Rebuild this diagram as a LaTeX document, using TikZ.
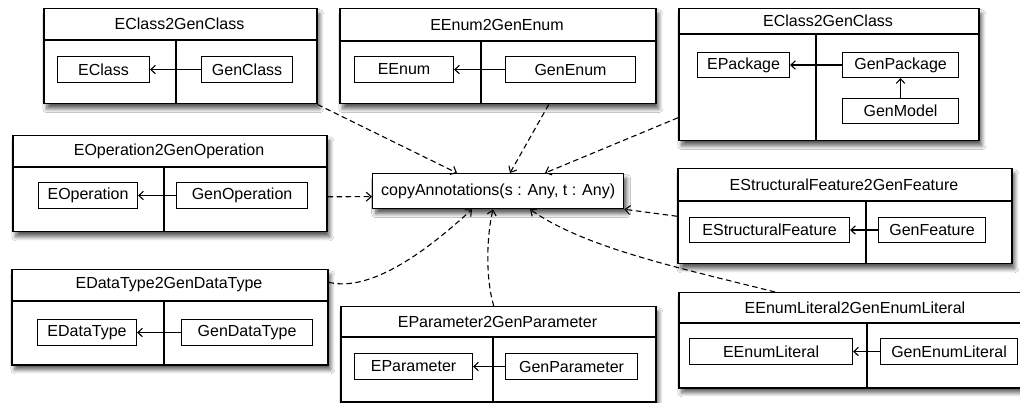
\documentclass[tikz,border=0pt]{standalone}
\usepackage{fontspec}
\setmainfont{Liberation Sans}
\usetikzlibrary{arrows.meta,shadows.blur,calc}
\tikzset{
  lbl/.style={font=\fontsize{16}{18}\selectfont},
  mapouter/.style={draw, line width=1.5pt, fill=white, inner sep=0pt,
    blur shadow={shadow xshift=3pt, shadow yshift=-5pt, shadow blur radius=4pt, shadow blur steps=8, shadow opacity=65}},
  mapline/.style={line width=1.3pt},
  titletext/.style={lbl, inner sep=0pt},
  cell/.style={draw, line width=1.1pt, fill=white, lbl, inner sep=2pt},
  inarrow/.style={line width=1.1pt, -{Straight Barb[length=4.5pt,width=8.5pt]}},
  conn/.style={line width=1.1pt, dash pattern=on 5.5pt off 3.5pt, -{Straight Barb[length=5pt,width=9pt]}},
}
\newcommand\mybox[8]{%
  \node[mapouter, anchor=north west, minimum width={(#4-#2)*1pt}, minimum height={(#5-#3)*1pt}] (#1) at (#2,#3) {};
  \draw[mapline] (#2,#6) -- (#4,#6);
  \draw[mapline] (#7,#6) -- (#7,#5);
  \node[titletext] (#1-title) at ({(#2+#4)/2},{(#3+#6)/2}) {#8};
}
\newcommand\mycell[6]{%
  \node[cell, anchor=north west, minimum width={(#4-#2)*1pt}, minimum height={(#5-#3)*1pt}] (#1) at (#2,#3) {#6};
}
\begin{document}
\begin{tikzpicture}[x=1pt,y=-1pt]
\useasboundingbox[fill=white] (0,0) rectangle (1020,403);

% EClass2GenClass (left)
\mybox{b1}{43}{8}{316}{103}{40}{176}{EClass2GenClass}
\mycell{eclass}{57}{56}{149}{82}{EClass}
\mycell{genclass}{201}{56}{292}{82}{GenClass}
\draw[inarrow] (genclass) -- (eclass);

% EEnum2GenEnum
\mybox{b2}{339}{8}{655}{103}{41}{481}{EEnum2GenEnum}
\mycell{eenum}{354}{56}{453}{82}{EEnum}
\mycell{genenum}{505}{56}{635}{82}{GenEnum}
\draw[inarrow] (genenum) -- (eenum);

% EClass2GenClass (right)
\mybox{b3}{678}{8}{978}{140}{34}{816}{EClass2GenClass}
\mycell{epackage}{697}{52}{789}{77}{EPackage}
\mycell{genpackage}{842}{52}{958}{77}{GenPackage}
\mycell{genmodel}{842}{98}{958}{123}{GenModel}
\draw[inarrow] (genpackage) -- (epackage);
\draw[inarrow] (genmodel) -- (genpackage);

% EOperation2GenOperation
\mybox{b4}{12}{135}{326}{231}{167}{164}{EOperation2GenOperation}
\mycell{eoperation}{38}{182}{137}{208}{EOperation}
\mycell{genoperation}{176}{182}{307}{208}{GenOperation}
\draw[inarrow] (genoperation) -- (eoperation);

% EStructuralFeature2GenFeature
\mybox{b5}{677}{168}{1011}{263}{201}{866}{EStructuralFeature2GenFeature}
\mycell{esf}{689}{217}{849}{242}{EStructuralFeature}
\mycell{genfeature}{878}{217}{985}{242}{GenFeature}
\draw[inarrow] (genfeature) -- (esf);

% EDataType2GenDataType
\mybox{b6}{11}{269}{327}{364}{301}{164}{EDataType2GenDataType}
\mycell{edatatype}{37}{319}{136}{345}{EDataType}
\mycell{gendatatype}{181}{319}{312}{345}{GenDataType}
\draw[inarrow] (gendatatype) -- (edatatype);

% EParameter2GenParameter
\mybox{b7}{340}{306}{655}{401}{337}{493}{EParameter2GenParameter}
\mycell{eparameter}{354}{353}{472}{379}{EParameter}
\mycell{genparameter}{505}{353}{637}{379}{GenParameter}
\draw[inarrow] (genparameter) -- (eparameter);

% EEnumLiteral2GenEnumLiteral
\mybox{b8}{678}{292}{1032}{387}{323}{867}{EEnumLiteral2GenEnumLiteral}
\mycell{eenumliteral}{689}{338}{852}{364}{EEnumLiteral}
\mycell{genenumliteral}{880}{338}{1017}{364}{GenEnumLiteral}
\draw[inarrow] (genenumliteral) -- (eenumliteral);

% central operation
\node[mapouter, lbl, anchor=north west, minimum width=251pt, minimum height=35pt, line width=1.3pt] (copy) at (372,173) {copyAnnotations(s : Any, t : Any)};

% connectors
\draw[conn] (b1.south east) -- ([xshift=85pt]copy.north west);
\draw[conn] ([xshift=51pt]b2.south) -- ([xshift=138pt]copy.north west);
\draw[conn] ([yshift=-43pt]b3.west) -- ([xshift=173pt]copy.north west);
\draw[conn] ([yshift=-13pt]b4.east) -- ([yshift=-5.5pt]copy.west);
\draw[conn] (b5.west) -- (copy.south east);
\draw[conn] ([yshift=35pt]b6.east) .. controls (372,293) and (430,248) .. ([xshift=100pt]copy.south west);
\draw[conn] ([xshift=-4.5pt]b7.north) .. controls (486,280) and (486,240) .. ([xshift=121pt]copy.south west);
\draw[conn] ([xshift=97pt]b8.north west) .. controls (680,268) and (585,248) .. ([xshift=158pt]copy.south west);
\end{tikzpicture}
\end{document}
